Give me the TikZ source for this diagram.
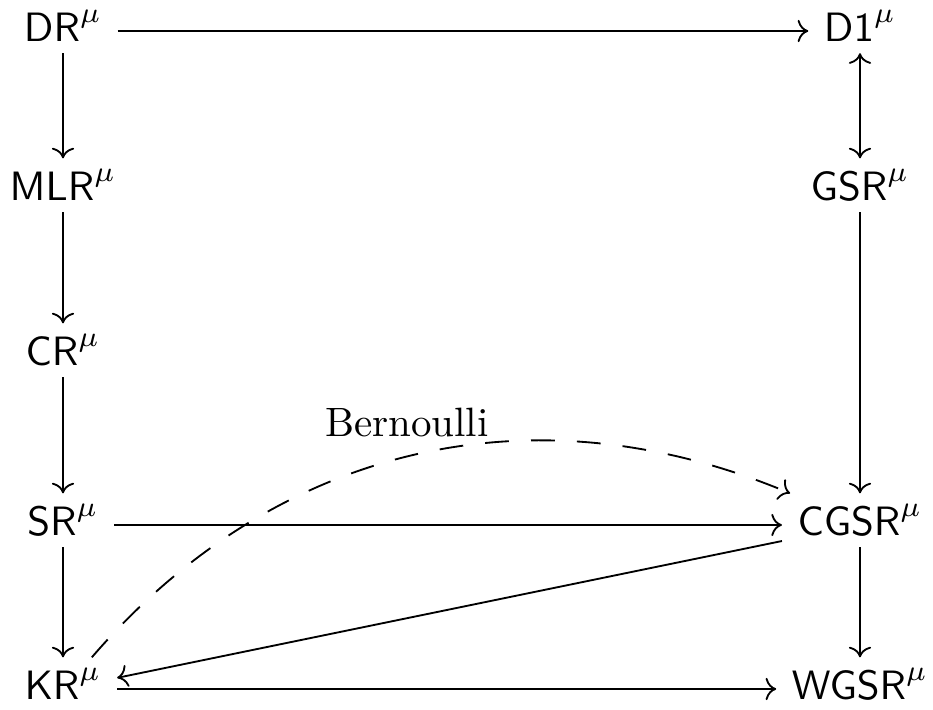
\documentclass[tikz,border=0pt]{standalone}
\usetikzlibrary{arrows.meta}
\begin{document}
\begin{tikzpicture}[x=0.2439pt,y=-0.2439pt, line width=0.45pt,
  obj/.style={inner xsep=3.6pt, inner ysep=2pt, text height=8pt, text depth=3pt},
  arr/.style={-{Computer Modern Rightarrow}},
  varr/.style={arr, shorten <=-2.3pt},
  lbl/.style={font=\rmfamily, inner sep=0pt}]
\useasboundingbox (0,0) rectangle (933,710);
\node[obj] (DR)   at (63,31)   {$\mathsf{DR}^{\mu}$};
\node[obj] (MLR)  at (63,190)  {$\mathsf{MLR}^{\mu}$};
\node[obj] (CR)   at (63,355)  {$\mathsf{CR}^{\mu}$};
\node[obj] (SR)   at (63,525)  {$\mathsf{SR}^{\mu}$};
\node[obj] (KR)   at (63,689)  {$\mathsf{KR}^{\mu}$};
\node[obj] (D1)   at (860,31)  {$\mathsf{D1}^{\mu}$};
\node[obj] (GSR)  at (860,190) {$\mathsf{GSR}^{\mu}$};
\node[obj] (CGSR) at (860,525) {$\mathsf{CGSR}^{\mu}$};
\node[obj] (WGSR) at (860,689) {$\mathsf{WGSR}^{\mu}$};
\draw[arr] (DR) -- (D1);
\draw[varr] (DR) -- (MLR);
\draw[varr] (MLR) -- (CR);
\draw[varr] (CR) -- (SR);
\draw[varr] (SR) -- (KR);
\draw[{Computer Modern Rightarrow}-{Computer Modern Rightarrow}, shorten <=-2.3pt] (D1) -- (GSR);
\draw[varr] (GSR) -- (CGSR);
\draw[varr] (CGSR) -- (WGSR);
\draw[arr] (SR) -- (CGSR);
\draw[arr] (KR) -- (WGSR);
\draw[arr] (CGSR) -- (KR);
\draw[arr, dash pattern=on 5.8pt off 5.4pt] (KR) to[bend left=36] (CGSR);
\node[lbl, anchor=base] (bern) at (407,437) {Bernoulli};
\end{tikzpicture}
\end{document}
